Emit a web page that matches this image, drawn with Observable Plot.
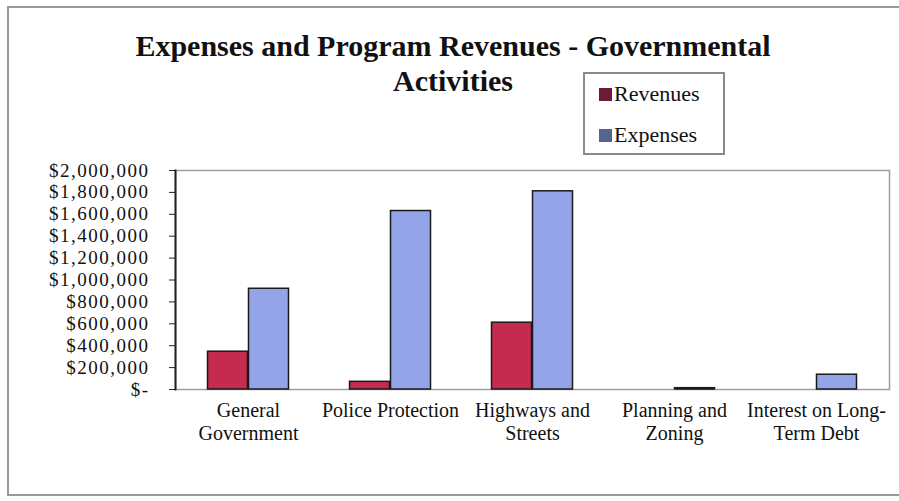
<!DOCTYPE html>
<html>
<head>
<meta charset="utf-8">
<script src="https://cdn.jsdelivr.net/npm/d3@7"></script>
<script src="https://cdn.jsdelivr.net/npm/@observablehq/plot@0.6"></script>
<style>
  html, body { margin: 0; padding: 0; background: #fff; }
  #wrap { position: relative; width: 899px; height: 501px; overflow: hidden; font-family: "Liberation Serif", "Times New Roman", serif; color: #111; }
  #border { position: absolute; left: 7px; top: 6px; width: 1000px; height: 486px; border: 2px solid #9a9a9a; }
  #title { position: absolute; left: 0; top: 28px; width: 906px; text-align: center; font-weight: bold; font-size: 30px; line-height: 35px; }
  #legend { position: absolute; left: 583px; top: 72px; width: 138px; height: 79px; border: 2px solid #8a8a8a; box-sizing: content-box; }
  .item { position: absolute; left: 14px; font-size: 22px; line-height: 24px; display: flex; align-items: center; }
  .sw { width: 13px; height: 13px; display: inline-block; margin-right: 2px; }
  #chart { position: absolute; left: 0; top: 150px; }
  #chart g[aria-label="y-axis tick label"] text { letter-spacing: 1.5px; }
</style>
</head>
<body>
<div id="wrap">
  <div id="border"></div>
  <div id="title">Expenses and Program Revenues - Governmental<br>Activities</div>
  <div id="legend"></div>
  <div id="chart"></div>
</div>
<script>
const categories = ["General Government", "Police Protection", "Highways and Streets", "Planning and Zoning", "Interest on Long-Term Debt"];
const tickLabels = ["General\nGovernment", "Police Protection", "Highways and\nStreets", "Planning and\nZoning", "Interest on Long-\nTerm Debt"];
const revenues = [345000, 70000, 610000, 0, 0];
const expenses = [920000, 1630000, 1810000, 12000, 135000];
const seriesNames = ["Revenues", "Expenses"];
const yTicks = [0, 200000, 400000, 600000, 800000, 1000000, 1200000, 1400000, 1600000, 1800000, 2000000];

const barColors = {Revenues: "#c42b4f", Expenses: "#93a4e8"};
const legendColors = {Revenues: "#6e1a34", Expenses: "#55658f"};

const revData = categories.map((c, i) => ({category: c, series: "Revenues", value: revenues[i]})).filter(d => d.value > 0);
const expData = categories.map((c, i) => ({category: c, series: "Expenses", value: expenses[i]})).filter(d => d.value > 0);

const fmt = d3.format(",");
const chart = Plot.plot({
  width: 899,
  height: 340,
  marginLeft: 175,
  marginRight: 10,
  marginTop: 20,
  marginBottom: 101,
  style: {fontFamily: "'Liberation Serif', 'Times New Roman', serif", fontSize: "19px", color: "#111", background: "transparent"},
  x: {domain: categories, padding: 0, label: null},
  y: {domain: [0, 2000000], label: null},
  marks: [
    Plot.frame({stroke: "#a0a0a0", strokeWidth: 1.5}),
    Plot.barY(revData, {x: "category", y: "value", fill: barColors.Revenues, stroke: "#1a1a1a", strokeWidth: 1.5, insetLeft: 30.5, insetRight: 71.5}),
    Plot.barY(expData, {x: "category", y: "value", fill: barColors.Expenses, stroke: "#1a1a1a", strokeWidth: 1.5, insetLeft: 71.5, insetRight: 30.5}),
    Plot.axisY({ticks: yTicks, tickFormat: d => d === 0 ? "$-" : "$" + fmt(d), tickSize: 6, tickPadding: 20, fontSize: 19, stroke: "#222", label: null}),
    Plot.axisX({tickSize: 0, tickPadding: 11, fontSize: 20, lineHeight: 1.15, tickFormat: d => tickLabels[categories.indexOf(d)], label: null}),
    Plot.frame({anchor: "left", stroke: "#222", strokeWidth: 2})
  ]
});
document.getElementById("chart").appendChild(chart);

const legend = document.getElementById("legend");
seriesNames.forEach((s, i) => {
  const item = document.createElement("div");
  item.className = "item";
  item.style.top = (i === 0 ? 8 : 49) + "px";
  const sw = document.createElement("span");
  sw.className = "sw";
  sw.style.background = legendColors[s];
  item.appendChild(sw);
  item.appendChild(document.createTextNode(s));
  legend.appendChild(item);
});
</script>
</body>
</html>
